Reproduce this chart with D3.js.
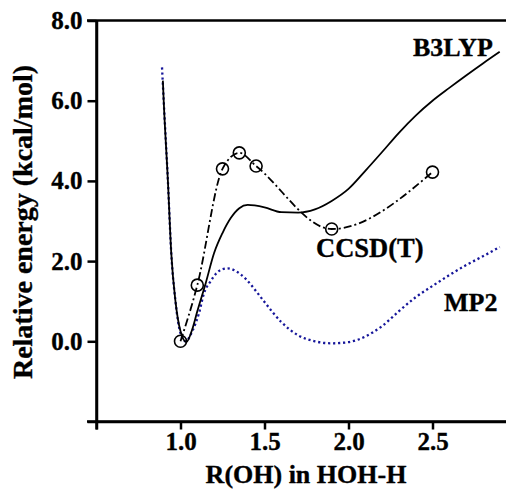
<!DOCTYPE html>
<html><head><meta charset="utf-8">
<script src="https://cdn.jsdelivr.net/npm/d3@7"></script>
<style>
html,body{margin:0;padding:0;background:#fff;}
svg{display:block;}
text{font-family:"Liberation Serif","Times New Roman",serif;font-weight:bold;fill:#000;stroke:#000;stroke-width:0.35px;}
</style></head>
<body><svg id="c" width="506" height="489"></svg>
<script>
// ---- data ----
const b3lypX = [0.895,0.90,0.925,0.945,0.97,1.0,1.035,1.07,1.1,1.15,1.2,1.25,1.3,1.35,1.4,1.5,1.6,1.7,1.8,1.9,2.0,2.1,2.2,2.3,2.4,2.5,2.6,2.7,2.8,2.9];
const b3lypY = [6.5,6.0,4.0,2.2,1.0,0.25,-0.02,0.3,0.75,1.45,2.2,2.7,3.08,3.32,3.4,3.34,3.22,3.21,3.29,3.5,3.8,4.25,4.72,5.2,5.63,6.0,6.32,6.63,6.93,7.22];
const mp2X = [0.89,0.90,0.925,0.945,0.97,1.0,1.03,1.07,1.11,1.14,1.18,1.21,1.25,1.28,1.33,1.39,1.45,1.5,1.6,1.7,1.8,1.9,2.0,2.1,2.2,2.3,2.4,2.5,2.6,2.7,2.8,2.9];
const mp2Y = [6.83,6.0,4.0,2.2,1.0,0.2,0.0,0.25,0.7,1.2,1.5,1.68,1.8,1.82,1.75,1.55,1.25,0.98,0.48,0.15,0.0,-0.05,-0.02,0.12,0.38,0.75,1.1,1.38,1.65,1.9,2.12,2.35];
const ccsdX = [1.0,1.1,1.25,1.35,1.45,1.9,2.5];
const ccsdY = [0.0,1.4,4.3,4.7,4.37,2.8,4.22];
const yTicks = [-2,0,2,4,6,8];
const yTickLabels = ["","0.0","2.0","4.0","6.0","8.0"];
const xTicks = [0.5,1.0,1.5,2.0,2.5];
const xTickLabels = ["","1.0","1.5","2.0","2.5"];
const seriesLabels = ["B3LYP","CCSD(T)","MP2"];

// ---- scales ----
const svg = d3.select("#c");
const x = d3.scaleLinear().domain([0.5,3.0]).range([96.5,516.5]);
const y = d3.scaleLinear().domain([-2,8]).range([421.5,20.5]);

// axes
const yAxis = d3.axisLeft(y).tickValues(yTicks).tickSize(9).tickSizeOuter(0)
  .tickPadding(5).tickFormat((d,i)=>yTickLabels[i]);
const xAxis = d3.axisBottom(x).tickValues(xTicks).tickSize(8).tickSizeOuter(0)
  .tickPadding(3).tickFormat((d,i)=>xTickLabels[i]);

const gy = svg.append("g").attr("transform","translate(96.5,0)").call(yAxis);
const gx = svg.append("g").attr("transform","translate(0,421.5)").call(xAxis);
[gx,gy].forEach(g=>{
  g.selectAll("path.domain").attr("stroke","#000").attr("stroke-width",2.5);
  g.selectAll(".tick line").attr("stroke","#000").attr("stroke-width",2.5);
  g.selectAll(".tick text").style("font-family","'Liberation Serif',serif")
   .style("font-weight","bold").style("font-size","25px").attr("fill","#000");
});
// extend x axis line leftwards to meet the -2 tick
svg.append("line").attr("x1",87).attr("x2",x(3.0)).attr("y1",y(-2)).attr("y2",y(-2))
  .attr("stroke","#000").attr("stroke-width",2.5);
// top frame line
svg.append("line").attr("x1",87).attr("x2",x(3.0)).attr("y1",y(8)).attr("y2",y(8))
  .attr("stroke","#000").attr("stroke-width",2.5);
// y axis extend below
svg.append("line").attr("x1",x(0.5)).attr("x2",x(0.5)).attr("y1",y(8)).attr("y2",y(-2)+8)
  .attr("stroke","#000").attr("stroke-width",2.5);

// lines
const line = d3.line().x(d=>x(d[0])).y(d=>y(d[1])).curve(d3.curveMonotoneX);
const b3 = b3lypX.map((v,i)=>[v,b3lypY[i]]);
const mp = mp2X.map((v,i)=>[v,mp2Y[i]]);
const cc = ccsdX.map((v,i)=>[v,ccsdY[i]]);

svg.append("path").attr("d",line(mp)).attr("fill","none")
  .attr("stroke","#16169a").attr("stroke-width",2.3).attr("stroke-dasharray","2.2,2.8");
svg.append("path").attr("d",line(b3)).attr("fill","none")
  .attr("stroke","#000").attr("stroke-width",1.8);
svg.append("path").attr("d",line(cc)).attr("fill","none")
  .attr("stroke","#000").attr("stroke-width",1.8).attr("stroke-dasharray","8,3,2,3");
svg.selectAll("circle.cc").data(cc).enter().append("circle")
  .attr("cx",d=>x(d[0])).attr("cy",d=>y(d[1])).attr("r",6)
  .attr("fill","none").attr("stroke","#000").attr("stroke-width",1.6);

// series labels
svg.append("text").attr("x",413).attr("y",56).style("font-size","26px").text(seriesLabels[0]);
svg.append("text").attr("x",316).attr("y",257).style("font-size","26.5px").text(seriesLabels[1]);
svg.append("text").attr("x",444).attr("y",311).style("font-size","26px").text(seriesLabels[2]);

// axis titles
svg.append("text").attr("x",306).attr("y",483).attr("text-anchor","middle")
  .style("font-size","26px").text("R(OH) in HOH-H");
svg.append("text").attr("transform","translate(32,222) rotate(-90)").attr("text-anchor","middle")
  .style("font-size","28px").text("Relative energy (kcal/mol)");
</script></body></html>
